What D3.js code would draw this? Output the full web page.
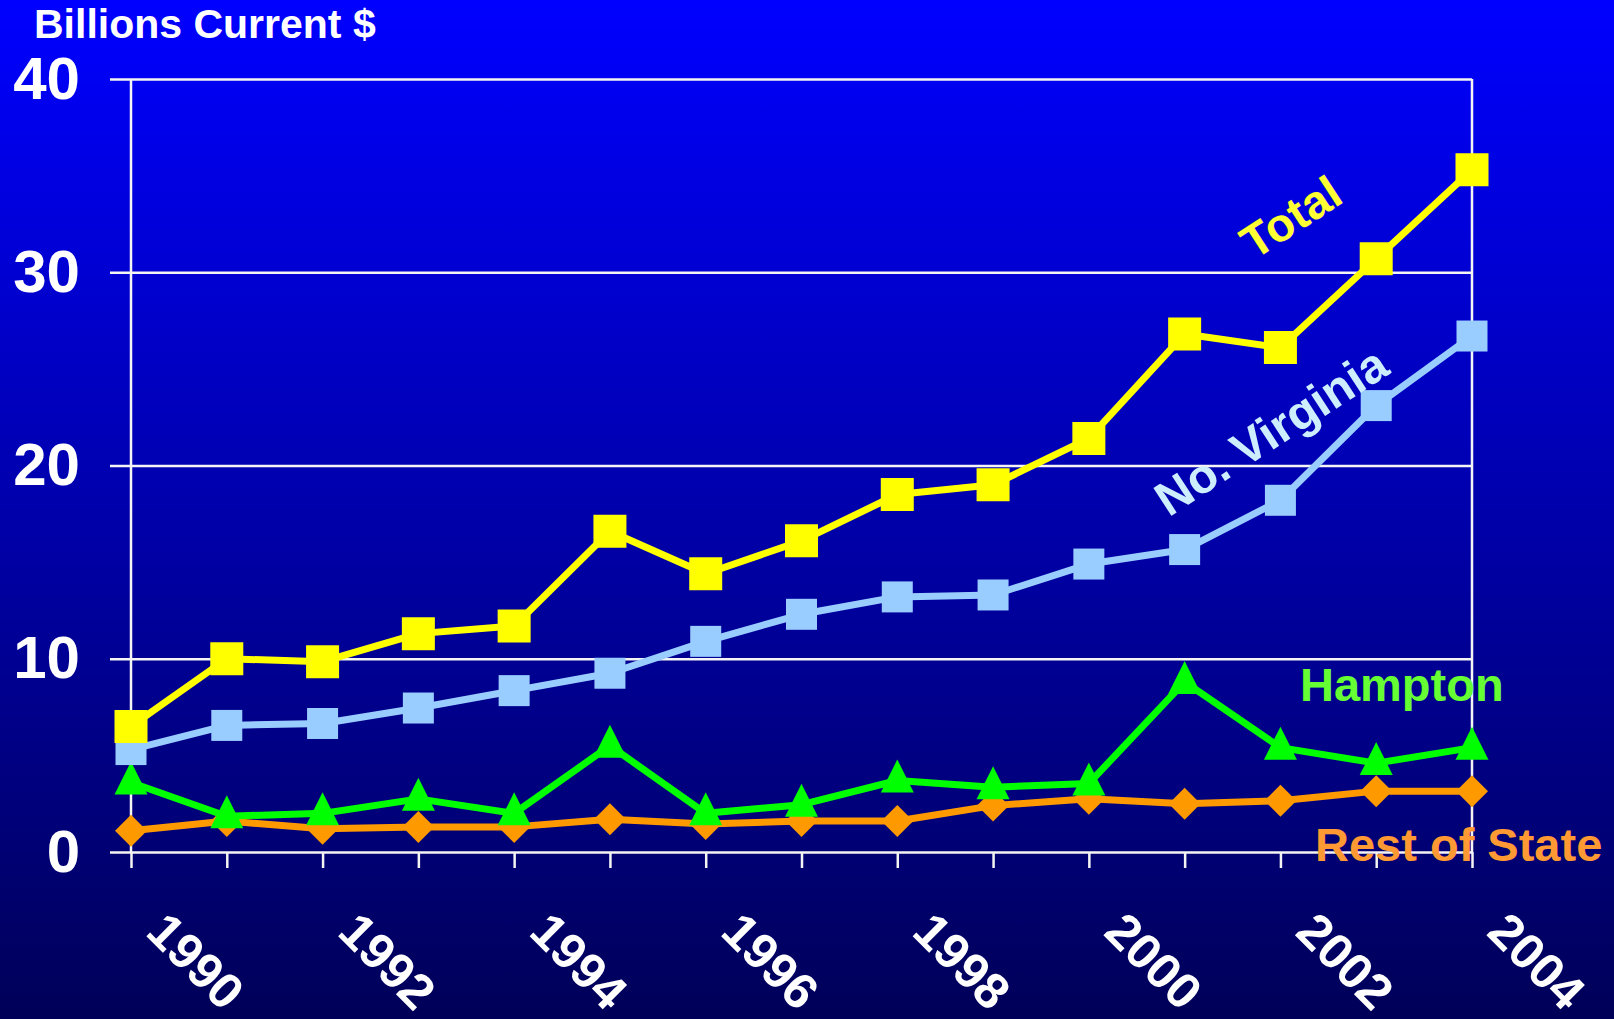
<!DOCTYPE html>
<html>
<head>
<meta charset="utf-8">
<title>Billions Current $</title>
<script src="https://cdn.jsdelivr.net/npm/d3@7"></script>
<style>
    html, body { margin: 0; padding: 0; background: #000058; }
    svg { display: block; }
    text { font-family: "Liberation Sans", Arial, sans-serif; font-weight: bold; }
</style>
</head>
<body>
<svg width="1614" height="1019"></svg>
<script>
    // chart data
    var years = [1990, 1991, 1992, 1993, 1994, 1995, 1996, 1997, 1998, 1999, 2000, 2001, 2002, 2003, 2004];
    var yearLabels = [1990, 1992, 1994, 1996, 1998, 2000, 2002, 2004];
    var yTicks = [0, 10, 20, 30, 40];

    var total      = [6.5, 10.0, 9.85, 11.3, 11.7, 16.6, 14.4, 16.1, 18.5, 19.0, 21.4, 26.8, 26.1, 30.7, 35.3];
    var noVirginia = [5.3, 6.55, 6.65, 7.45, 8.35, 9.25, 10.9, 12.3, 13.2, 13.3, 14.9, 15.65, 18.2, 23.1, 26.7];
    var hampton    = [3.6, 1.85, 2.0, 2.75, 2.0, 5.5, 2.0, 2.45, 3.7, 3.35, 3.55, 8.8, 5.4, 4.6, 5.4];
    var restState  = [1.1, 1.6, 1.2, 1.3, 1.3, 1.7, 1.45, 1.6, 1.6, 2.4, 2.75, 2.5, 2.65, 3.15, 3.15];

    var svg = d3.select("svg");
    // note: "top" is taken by window.top, so plot edges get their own names
    var plotLeft = 131, plotRight = 1472, plotTop = 79, plotBottom = 852;

    // background gradient
    var grad = svg.append("defs").append("linearGradient")
        .attr("id", "bg").attr("x1", 0).attr("y1", 0).attr("x2", 0).attr("y2", 1);
    grad.append("stop").attr("offset", "0%").attr("stop-color", "#0000ff");
    grad.append("stop").attr("offset", "100%").attr("stop-color", "#000058");
    svg.append("rect").attr("width", 1614).attr("height", 1019).attr("fill", "url(#bg)");

    var x = d3.scalePoint().domain(years).range([plotLeft, plotRight]);
    var y = d3.scaleLinear().domain([0, 40]).range([plotBottom, plotTop]);

    // horizontal gridlines (they stick out left of the axis as ticks)
    var grid = svg.append("g")
        .attr("transform", "translate(" + plotRight + ",0)")
        .call(d3.axisLeft(y).tickValues(yTicks).tickSize(plotRight - 110).tickFormat(""));
    grid.select(".domain").remove();
    grid.selectAll("line").attr("stroke", "#f4f4f4").attr("stroke-width", 2.5);

    // y tick labels
    var yAxis = svg.append("g")
        .attr("transform", "translate(" + plotLeft + ",0)")
        .call(d3.axisLeft(y).tickValues(yTicks).tickSize(0).tickPadding(51));
    yAxis.select(".domain").remove();
    yAxis.selectAll("text").attr("fill", "#fff").style("font-size", "60px");

    // x axis ticks
    var xAxis = svg.append("g")
        .attr("transform", "translate(0," + plotBottom + ")")
        .call(d3.axisBottom(x).tickSize(16).tickSizeOuter(0).tickFormat(""));
    xAxis.select(".domain").remove();
    xAxis.selectAll("line").attr("stroke", "#f4f4f4").attr("stroke-width", 2.5);

    // left axis + right border
    svg.selectAll(".vline").data([plotLeft, plotRight]).enter().append("line")
        .attr("x1", function (d) { return d; }).attr("x2", function (d) { return d; })
        .attr("y1", plotTop).attr("y2", plotBottom)
        .attr("stroke", "#f4f4f4").attr("stroke-width", 2.5);

    // rotated year labels
    svg.append("g").selectAll("text").data(yearLabels).enter().append("text")
        .attr("transform", function (d) { return "translate(" + (x(d) + 65) + ",961) rotate(45)"; })
        .attr("text-anchor", "middle").attr("dy", "0.35em")
        .attr("fill", "#fff").style("font-size", "50px")
        .text(function (d) { return d; });

    // marker shapes
    var square33 = "M-16.5,-16.5H16.5V16.5H-16.5Z";
    var square31 = "M-15.5,-15.5H15.5V15.5H-15.5Z";
    var triangle = "M0,-21L16.5,12L-16.5,12Z";
    var diamond = "M0,-16L16,0L0,16L-16,0Z";

    var series = [
        { values: restState, color: "#ff9900", marker: diamond },
        { values: hampton, color: "#00ff00", marker: triangle },
        { values: noVirginia, color: "#99ccff", marker: square31 },
        { values: total, color: "#ffff00", marker: square33 }
    ];

    var line = d3.line()
        .x(function (d, i) { return x(years[i]); })
        .y(function (d) { return y(d); });

    series.forEach(function (s) {
        var g = svg.append("g");
        g.append("path").attr("d", line(s.values))
            .attr("fill", "none").attr("stroke", s.color).attr("stroke-width", 7)
            .attr("stroke-linejoin", "round");
        g.selectAll("path.m").data(s.values).enter().append("path")
            .attr("class", "m")
            .attr("d", s.marker)
            .attr("transform", function (d, i) { return "translate(" + x(years[i]) + "," + y(d) + ")"; })
            .attr("fill", s.color);
    });

    // title
    svg.append("text").attr("x", 34).attr("y", 38)
        .attr("fill", "#fff").style("font-size", "41px")
        .text("Billions Current $");

    // series labels
    svg.append("text")
        .attr("transform", "translate(1291,217) rotate(-33)")
        .attr("text-anchor", "middle").attr("dy", "0.35em")
        .attr("fill", "#ffff33").style("font-size", "47px")
        .text("Total");
    svg.append("text")
        .attr("transform", "translate(1271,431) rotate(-33)")
        .attr("text-anchor", "middle").attr("dy", "0.35em")
        .attr("fill", "#cceeff").style("font-size", "48px")
        .text("No. Virginia");
    svg.append("text").attr("x", 1300).attr("y", 701)
        .attr("fill", "#66ff33").style("font-size", "47px")
        .text("Hampton");
    svg.append("text").attr("x", 1315).attr("y", 861)
        .attr("fill", "#ff9933").style("font-size", "47px")
        .text("Rest of State");
</script>
</body>
</html>
